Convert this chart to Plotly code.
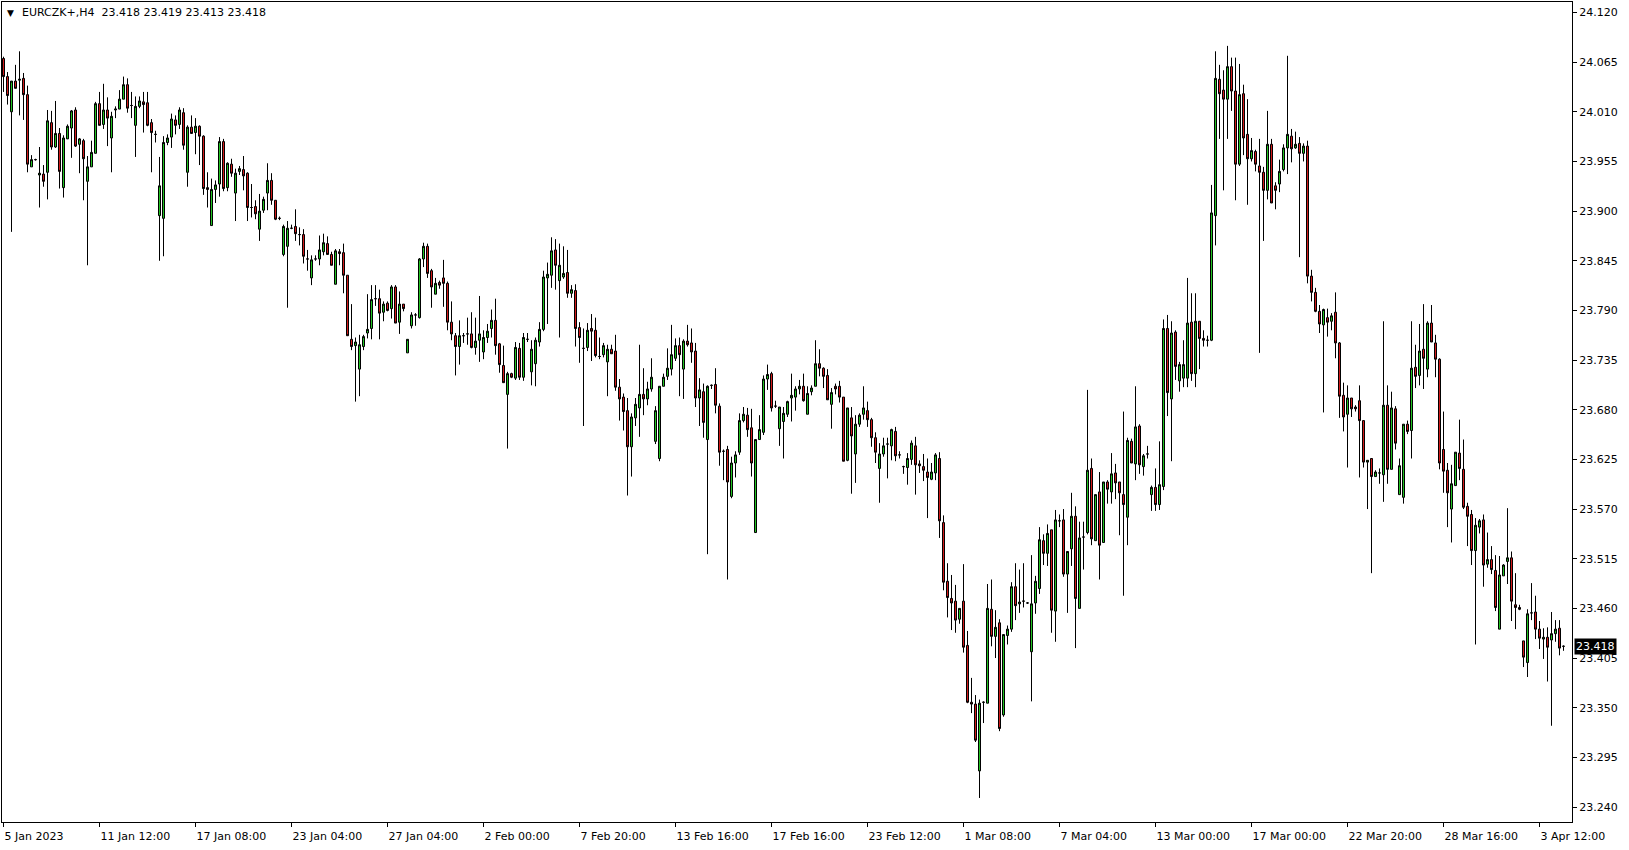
import plotly.graph_objects as go

symbol = "EURCZK+,H4"

time_labels = ["5 Jan 2023", "11 Jan 12:00", "17 Jan 08:00", "23 Jan 04:00", "27 Jan 04:00",
               "2 Feb 00:00", "7 Feb 20:00", "13 Feb 16:00", "17 Feb 16:00", "23 Feb 12:00",
               "1 Mar 08:00", "7 Mar 04:00", "13 Mar 00:00", "17 Mar 00:00", "22 Mar 20:00",
               "28 Mar 16:00", "3 Apr 12:00"]
bars_per_label = 24

price_ticks = [24.120, 24.065, 24.010, 23.955, 23.900, 23.845, 23.790, 23.735, 23.680,
               23.625, 23.570, 23.515, 23.460, 23.405, 23.350, 23.295, 23.240]

open_ = [
    24.069, 24.049, 24.010, 24.044, 24.045, 24.047, 24.029, 23.949, 23.957, 23.940,
    23.941, 23.943, 23.998, 23.971, 23.986, 23.926, 23.980, 23.992, 24.012, 23.974,
    23.978, 23.933, 23.949, 23.964, 24.019, 23.996, 24.012, 23.981, 24.012, 24.013,
    24.024, 24.040, 24.017, 23.995, 24.016, 24.021, 24.020, 23.998, 23.985, 23.895,
    23.892, 23.976, 23.982, 24.001, 23.996, 24.009, 23.943, 23.993, 23.987, 23.994,
    23.983, 23.926, 23.884, 23.924, 23.930, 23.977, 23.926, 23.952, 23.920, 23.944,
    23.946, 23.942, 23.904, 23.905, 23.880, 23.901, 23.920, 23.934, 23.912, 23.892,
    23.852, 23.861, 23.881, 23.883, 23.874, 23.874, 23.847, 23.826, 23.847, 23.847,
    23.855, 23.864, 23.852, 23.819, 23.855, 23.854, 23.829, 23.758, 23.751, 23.725,
    23.750, 23.765, 23.770, 23.803, 23.803, 23.788, 23.798, 23.792, 23.816, 23.777,
    23.797, 23.743, 23.773, 23.785, 23.782, 23.847, 23.861, 23.834, 23.808, 23.821,
    23.826, 23.820, 23.777, 23.762, 23.750, 23.762, 23.764, 23.764, 23.749, 23.757,
    23.744, 23.760, 23.770, 23.779, 23.753, 23.729, 23.697, 23.720, 23.715, 23.748,
    23.716, 23.758, 23.722, 23.731, 23.755, 23.769, 23.826, 23.829, 23.857, 23.823,
    23.827, 23.832, 23.809, 23.812, 23.771, 23.748, 23.749, 23.770, 23.768, 23.739,
    23.741, 23.733, 23.747, 23.745, 23.705, 23.694, 23.679, 23.639, 23.671, 23.682,
    23.697, 23.692, 23.703, 23.645, 23.626, 23.706, 23.717, 23.725, 23.737, 23.751,
    23.725, 23.756, 23.754, 23.745, 23.693, 23.700, 23.647, 23.707, 23.708, 23.684,
    23.634, 23.636, 23.584, 23.621, 23.633, 23.668, 23.674, 23.660, 23.544, 23.647,
    23.655, 23.714, 23.720, 23.684, 23.659, 23.667, 23.675, 23.693, 23.694, 23.703,
    23.706, 23.675, 23.700, 23.706, 23.731, 23.726, 23.718, 23.686, 23.706, 23.706,
    23.694, 23.624, 23.671, 23.631, 23.664, 23.675, 23.679, 23.669, 23.649, 23.615,
    23.631, 23.642, 23.640, 23.656, 23.630, 23.617, 23.616, 23.625, 23.640, 23.620,
    23.617, 23.611, 23.603, 23.610, 23.626, 23.555, 23.490, 23.471, 23.468, 23.448,
    23.468, 23.419, 23.356, 23.354, 23.280, 23.356, 23.355, 23.459, 23.429, 23.444,
    23.342, 23.430, 23.437, 23.484, 23.465, 23.468, 23.466, 23.412, 23.466, 23.482,
    23.535, 23.521, 23.547, 23.457, 23.557, 23.558, 23.498, 23.526, 23.562, 23.460,
    23.539, 23.544, 23.615, 23.535, 23.589, 23.533, 23.600, 23.589, 23.610, 23.600,
    23.586, 23.561, 23.645, 23.620, 23.662, 23.617, 23.631, 23.586, 23.594, 23.575,
    23.595, 23.770, 23.692, 23.766, 23.712, 23.715, 23.715, 23.777, 23.720, 23.778,
    23.759, 23.757, 23.757, 23.895, 24.046, 24.034, 24.024, 24.060, 24.033, 23.952,
    24.030, 23.985, 23.958, 23.966, 23.950, 23.943, 23.923, 23.974, 23.928, 23.930,
    23.946, 23.970, 23.983, 23.970, 23.975, 23.964, 23.972, 23.828, 23.810, 23.789,
    23.774, 23.782, 23.778, 23.788, 23.754, 23.696, 23.675, 23.693, 23.683, 23.690,
    23.668, 23.622, 23.626, 23.606, 23.610, 23.608, 23.685, 23.614, 23.681, 23.586,
    23.583, 23.664, 23.657, 23.727, 23.718, 23.747, 23.725, 23.776, 23.754, 23.736,
    23.636, 23.613, 23.570, 23.596, 23.632, 23.614, 23.573, 23.564, 23.524, 23.550,
    23.558, 23.509, 23.514, 23.502, 23.437, 23.496, 23.512, 23.516, 23.464, 23.461,
    23.424, 23.400, 23.455, 23.456, 23.437, 23.426, 23.428, 23.425, 23.432, 23.438,
    23.418,
]

high = [
    24.071, 24.054, 24.044, 24.062, 24.077, 24.053, 24.039, 23.962, 23.958, 23.971,
    23.951, 24.012, 24.011, 24.022, 23.992, 23.984, 23.996, 24.012, 24.015, 23.981,
    23.980, 23.961, 23.978, 24.021, 24.032, 24.041, 24.026, 24.010, 24.016, 24.034,
    24.049, 24.047, 24.032, 24.027, 24.027, 24.032, 24.032, 24.002, 23.989, 23.960,
    23.983, 23.985, 24.008, 24.006, 24.015, 24.014, 23.995, 24.006, 24.003, 23.995,
    23.984, 23.943, 23.936, 23.934, 23.982, 23.980, 23.954, 23.958, 23.947, 23.950,
    23.961, 23.943, 23.930, 23.912, 23.919, 23.916, 23.953, 23.942, 23.912, 23.894,
    23.885, 23.889, 23.885, 23.902, 23.882, 23.880, 23.857, 23.851, 23.851, 23.873,
    23.875, 23.872, 23.855, 23.858, 23.858, 23.864, 23.829, 23.797, 23.760, 23.763,
    23.763, 23.808, 23.818, 23.818, 23.813, 23.800, 23.800, 23.818, 23.818, 23.811,
    23.797, 23.758, 23.788, 23.787, 23.848, 23.865, 23.864, 23.836, 23.826, 23.823,
    23.846, 23.822, 23.800, 23.765, 23.779, 23.765, 23.782, 23.788, 23.782, 23.806,
    23.768, 23.775, 23.791, 23.803, 23.754, 23.751, 23.722, 23.721, 23.755, 23.754,
    23.765, 23.765, 23.757, 23.760, 23.777, 23.834, 23.843, 23.871, 23.869, 23.864,
    23.861, 23.857, 23.818, 23.819, 23.777, 23.770, 23.776, 23.786, 23.782, 23.760,
    23.754, 23.752, 23.752, 23.763, 23.714, 23.698, 23.693, 23.676, 23.693, 23.752,
    23.726, 23.711, 23.737, 23.684, 23.706, 23.720, 23.748, 23.774, 23.759, 23.760,
    23.758, 23.774, 23.770, 23.754, 23.715, 23.709, 23.707, 23.708, 23.726, 23.687,
    23.636, 23.640, 23.628, 23.634, 23.676, 23.683, 23.682, 23.681, 23.647, 23.674,
    23.718, 23.730, 23.722, 23.690, 23.683, 23.683, 23.690, 23.720, 23.706, 23.713,
    23.720, 23.706, 23.707, 23.757, 23.747, 23.727, 23.725, 23.704, 23.709, 23.712,
    23.694, 23.682, 23.683, 23.674, 23.676, 23.706, 23.689, 23.671, 23.655, 23.643,
    23.649, 23.649, 23.659, 23.661, 23.634, 23.618, 23.632, 23.646, 23.650, 23.624,
    23.631, 23.626, 23.621, 23.632, 23.633, 23.563, 23.510, 23.497, 23.486, 23.460,
    23.509, 23.435, 23.383, 23.364, 23.359, 23.357, 23.487, 23.492, 23.458, 23.448,
    23.431, 23.441, 23.489, 23.510, 23.503, 23.510, 23.467, 23.519, 23.496, 23.550,
    23.542, 23.553, 23.547, 23.569, 23.564, 23.570, 23.523, 23.588, 23.573, 23.556,
    23.556, 23.702, 23.626, 23.586, 23.611, 23.600, 23.602, 23.632, 23.620, 23.600,
    23.678, 23.649, 23.648, 23.706, 23.664, 23.631, 23.640, 23.596, 23.615, 23.645,
    23.780, 23.785, 23.778, 23.768, 23.733, 23.757, 23.826, 23.809, 23.809, 23.778,
    23.768, 23.762, 23.929, 24.077, 24.062, 24.056, 24.083, 24.070, 24.070, 24.063,
    24.040, 24.024, 23.981, 23.968, 23.980, 23.949, 24.011, 23.980, 23.932, 23.957,
    23.974, 24.072, 23.991, 23.988, 23.982, 23.975, 23.978, 23.835, 23.815, 23.796,
    23.792, 23.792, 23.787, 23.810, 23.755, 23.710, 23.707, 23.693, 23.685, 23.707,
    23.668, 23.624, 23.626, 23.613, 23.615, 23.778, 23.707, 23.700, 23.684, 23.626,
    23.664, 23.668, 23.778, 23.752, 23.775, 23.797, 23.778, 23.796, 23.763, 23.737,
    23.678, 23.621, 23.619, 23.633, 23.669, 23.647, 23.577, 23.569, 23.560, 23.559,
    23.564, 23.544, 23.529, 23.519, 23.518, 23.509, 23.571, 23.523, 23.499, 23.464,
    23.424, 23.459, 23.488, 23.474, 23.446, 23.438, 23.439, 23.456, 23.447, 23.447,
    23.419,
]

low = [
    24.032, 24.018, 23.877, 24.036, 24.006, 24.001, 23.943, 23.949, 23.956, 23.904,
    23.927, 23.913, 23.968, 23.970, 23.925, 23.915, 23.980, 23.959, 23.971, 23.942,
    23.912, 23.840, 23.949, 23.964, 23.995, 23.991, 23.972, 23.943, 24.003, 24.013,
    24.024, 24.009, 24.003, 23.960, 24.014, 23.987, 23.994, 23.943, 23.976, 23.845,
    23.850, 23.973, 23.970, 23.985, 23.991, 23.968, 23.927, 23.986, 23.963, 23.951,
    23.918, 23.904, 23.884, 23.909, 23.916, 23.922, 23.922, 23.938, 23.889, 23.940,
    23.923, 23.889, 23.893, 23.891, 23.867, 23.898, 23.901, 23.907, 23.890, 23.890,
    23.850, 23.793, 23.880, 23.867, 23.862, 23.842, 23.834, 23.818, 23.845, 23.840,
    23.851, 23.852, 23.840, 23.819, 23.840, 23.809, 23.762, 23.746, 23.689, 23.695,
    23.746, 23.759, 23.758, 23.795, 23.758, 23.778, 23.789, 23.781, 23.776, 23.764,
    23.789, 23.743, 23.770, 23.773, 23.781, 23.838, 23.826, 23.793, 23.808, 23.814,
    23.794, 23.768, 23.757, 23.718, 23.730, 23.754, 23.752, 23.748, 23.741, 23.733,
    23.736, 23.754, 23.760, 23.741, 23.721, 23.710, 23.637, 23.715, 23.713, 23.713,
    23.712, 23.755, 23.707, 23.706, 23.750, 23.767, 23.775, 23.815, 23.813, 23.760,
    23.825, 23.804, 23.804, 23.750, 23.732, 23.662, 23.745, 23.734, 23.738, 23.736,
    23.738, 23.695, 23.742, 23.701, 23.668, 23.657, 23.585, 23.606, 23.662, 23.650,
    23.674, 23.685, 23.700, 23.642, 23.623, 23.706, 23.713, 23.718, 23.734, 23.695,
    23.692, 23.750, 23.732, 23.683, 23.662, 23.649, 23.520, 23.703, 23.676, 23.618,
    23.602, 23.492, 23.582, 23.605, 23.630, 23.666, 23.650, 23.606, 23.544, 23.647,
    23.652, 23.702, 23.678, 23.682, 23.640, 23.626, 23.672, 23.667, 23.679, 23.697,
    23.689, 23.675, 23.696, 23.706, 23.717, 23.704, 23.691, 23.659, 23.697, 23.688,
    23.623, 23.623, 23.587, 23.599, 23.661, 23.669, 23.661, 23.639, 23.621, 23.577,
    23.628, 23.604, 23.624, 23.623, 23.626, 23.609, 23.597, 23.619, 23.586, 23.610,
    23.601, 23.560, 23.602, 23.602, 23.538, 23.480, 23.450, 23.436, 23.433, 23.443,
    23.411, 23.355, 23.344, 23.312, 23.250, 23.333, 23.355, 23.418, 23.405, 23.324,
    23.340, 23.420, 23.434, 23.447, 23.455, 23.461, 23.465, 23.357, 23.454, 23.476,
    23.508, 23.507, 23.433, 23.423, 23.550, 23.495, 23.455, 23.507, 23.416, 23.460,
    23.503, 23.542, 23.530, 23.535, 23.492, 23.533, 23.576, 23.576, 23.581, 23.541,
    23.474, 23.530, 23.621, 23.602, 23.609, 23.607, 23.626, 23.568, 23.568, 23.569,
    23.591, 23.673, 23.623, 23.713, 23.700, 23.705, 23.705, 23.712, 23.705, 23.725,
    23.750, 23.750, 23.756, 23.862, 23.980, 23.923, 23.980, 24.011, 23.912, 23.950,
    23.962, 23.907, 23.955, 23.944, 23.743, 23.867, 23.913, 23.909, 23.902, 23.921,
    23.944, 23.941, 23.954, 23.969, 23.849, 23.955, 23.820, 23.800, 23.788, 23.765,
    23.677, 23.761, 23.768, 23.737, 23.671, 23.656, 23.616, 23.672, 23.678, 23.605,
    23.616, 23.570, 23.499, 23.606, 23.598, 23.578, 23.598, 23.614, 23.636, 23.586,
    23.576, 23.653, 23.626, 23.704, 23.707, 23.703, 23.716, 23.755, 23.716, 23.614,
    23.588, 23.550, 23.533, 23.596, 23.602, 23.570, 23.529, 23.508, 23.420, 23.543,
    23.484, 23.505, 23.498, 23.457, 23.437, 23.496, 23.487, 23.446, 23.437, 23.458,
    23.395, 23.384, 23.447, 23.426, 23.415, 23.404, 23.379, 23.330, 23.423, 23.408,
    23.413,
]

close = [
    24.049, 24.028, 24.044, 24.036, 24.046, 24.029, 23.952, 23.957, 23.957, 23.942,
    23.933, 24.000, 23.971, 23.986, 23.944, 23.981, 23.994, 24.011, 23.972, 23.980,
    23.958, 23.949, 23.965, 24.019, 23.995, 24.012, 24.003, 24.005, 24.013, 24.024,
    24.040, 24.014, 24.017, 24.016, 24.022, 24.018, 23.995, 23.987, 23.985, 23.928,
    23.976, 23.981, 24.002, 23.995, 24.012, 23.973, 23.993, 23.986, 23.994, 23.983,
    23.925, 23.924, 23.924, 23.929, 23.977, 23.925, 23.953, 23.942, 23.942, 23.947,
    23.939, 23.904, 23.904, 23.897, 23.900, 23.913, 23.934, 23.912, 23.891, 23.892,
    23.883, 23.881, 23.881, 23.875, 23.874, 23.850, 23.847, 23.846, 23.847, 23.857,
    23.865, 23.852, 23.840, 23.856, 23.853, 23.829, 23.762, 23.750, 23.755, 23.752,
    23.761, 23.769, 23.802, 23.803, 23.787, 23.797, 23.790, 23.816, 23.776, 23.797,
    23.792, 23.758, 23.785, 23.785, 23.847, 23.861, 23.831, 23.816, 23.820, 23.818,
    23.820, 23.777, 23.764, 23.750, 23.762, 23.762, 23.764, 23.749, 23.756, 23.764,
    23.760, 23.767, 23.779, 23.751, 23.730, 23.710, 23.720, 23.716, 23.749, 23.716,
    23.760, 23.758, 23.747, 23.757, 23.769, 23.827, 23.830, 23.856, 23.840, 23.840,
    23.831, 23.809, 23.813, 23.770, 23.760, 23.748, 23.768, 23.767, 23.740, 23.739,
    23.751, 23.747, 23.742, 23.705, 23.692, 23.678, 23.639, 23.672, 23.686, 23.697,
    23.692, 23.703, 23.716, 23.679, 23.706, 23.716, 23.726, 23.741, 23.751, 23.741,
    23.756, 23.752, 23.744, 23.693, 23.702, 23.666, 23.706, 23.707, 23.685, 23.633,
    23.634, 23.600, 23.621, 23.630, 23.668, 23.675, 23.658, 23.621, 23.647, 23.658,
    23.714, 23.719, 23.682, 23.684, 23.683, 23.676, 23.689, 23.696, 23.703, 23.706,
    23.690, 23.698, 23.704, 23.731, 23.726, 23.717, 23.691, 23.699, 23.703, 23.694,
    23.623, 23.682, 23.651, 23.664, 23.674, 23.682, 23.669, 23.649, 23.633, 23.631,
    23.640, 23.642, 23.658, 23.629, 23.630, 23.617, 23.626, 23.643, 23.619, 23.618,
    23.613, 23.605, 23.611, 23.630, 23.557, 23.489, 23.472, 23.466, 23.447, 23.460,
    23.417, 23.356, 23.354, 23.314, 23.355, 23.356, 23.460, 23.429, 23.439, 23.327,
    23.431, 23.437, 23.484, 23.463, 23.467, 23.468, 23.466, 23.465, 23.490, 23.536,
    23.521, 23.543, 23.458, 23.558, 23.557, 23.498, 23.523, 23.562, 23.471, 23.538,
    23.539, 23.613, 23.537, 23.586, 23.530, 23.600, 23.592, 23.609, 23.599, 23.588,
    23.575, 23.646, 23.621, 23.661, 23.619, 23.629, 23.631, 23.594, 23.575, 23.597,
    23.770, 23.699, 23.765, 23.728, 23.730, 23.730, 23.776, 23.720, 23.778, 23.759,
    23.757, 23.757, 23.898, 24.047, 24.030, 24.024, 24.060, 24.033, 23.952, 24.029,
    23.981, 23.958, 23.967, 23.952, 23.943, 23.923, 23.974, 23.909, 23.923, 23.944,
    23.970, 23.985, 23.969, 23.974, 23.964, 23.972, 23.828, 23.810, 23.789, 23.775,
    23.791, 23.777, 23.784, 23.754, 23.695, 23.672, 23.693, 23.681, 23.681, 23.668,
    23.622, 23.624, 23.606, 23.611, 23.610, 23.685, 23.614, 23.682, 23.643, 23.618,
    23.664, 23.656, 23.726, 23.717, 23.745, 23.737, 23.776, 23.755, 23.736, 23.621,
    23.612, 23.588, 23.598, 23.633, 23.615, 23.572, 23.562, 23.524, 23.552, 23.557,
    23.508, 23.514, 23.503, 23.461, 23.497, 23.508, 23.516, 23.468, 23.461, 23.459,
    23.406, 23.454, 23.455, 23.437, 23.427, 23.428, 23.417, 23.432, 23.437, 23.416,
    23.418,
]

n = len(close)
assert len(open_) == n and len(high) == n and len(low) == n
bar_index = list(range(n))

BULL = "#22c322"
BEAR = "#d11a1a"
FONT = "DejaVu Sans"

fig = go.Figure()
fig.add_trace(go.Candlestick(
    x=bar_index, open=open_, high=high, low=low, close=close,
    increasing=dict(line=dict(color="black", width=1), fillcolor=BULL),
    decreasing=dict(line=dict(color="black", width=1), fillcolor=BEAR),
    whiskerwidth=0, hoverinfo="skip", showlegend=False,
))

W, H = 1629, 850
m_l, m_r, m_t, m_b = 2, 57, 2, 28
plot_w = W - m_l - m_r
px_per_bar = 4
x0 = -1.5 / px_per_bar
x1 = x0 + plot_w / px_per_bar

fig.update_layout(
    width=W, height=H,
    margin=dict(l=m_l, r=m_r, t=m_t, b=m_b),
    paper_bgcolor="white", plot_bgcolor="white",
    boxgap=0.5, boxgroupgap=0,
    font=dict(family=FONT, size=11, color="black"),
    showlegend=False,
)
fig.update_xaxes(
    range=[x0, x1], rangeslider_visible=False,
    tickvals=[i * bars_per_label for i in range(len(time_labels))],
    ticktext=time_labels,
    ticks="outside", ticklen=4, tickcolor="black", tickwidth=1,
    ticklabelposition="outside right", ticklabelstandoff=4,
    showline=True, linecolor="black", linewidth=1, mirror=True,
    showgrid=False, zeroline=False, fixedrange=True,
    tickfont=dict(family=FONT, size=11, color="black"),
)
fig.update_yaxes(
    side="right",
    range=[23.2234, 24.1316],
    tickvals=price_ticks,
    ticktext=[f"{p:.3f}" for p in price_ticks],
    ticks="outside", ticklen=4, tickcolor="black", tickwidth=1,
    showline=True, linecolor="black", linewidth=1, mirror=True,
    showgrid=False, zeroline=False, fixedrange=True,
    tickfont=dict(family=FONT, size=11, color="black"),
)

# current price label
fig.add_annotation(
    x=1, xref="paper", y=close[-1], yref="y",
    xanchor="left", yanchor="middle", xshift=2,
    text=f"{close[-1]:.3f}", showarrow=False,
    bgcolor="black", borderpad=1,
    font=dict(family=FONT, size=11, color="white"),
)
# header
fig.add_annotation(
    x=0, xref="paper", y=1, yref="paper", xanchor="left", yanchor="middle",
    xshift=3, yshift=-10.5, text="▼", showarrow=False,
    font=dict(family=FONT, size=9, color="black"),
)
header = f"{symbol}\u00a0\u00a0{open_[-1]:.3f} {high[-1]:.3f} {low[-1]:.3f} {close[-1]:.3f}"
fig.add_annotation(
    x=0, xref="paper", y=1, yref="paper", xanchor="left", yanchor="middle",
    xshift=18, yshift=-10.5, text=header, showarrow=False,
    font=dict(family=FONT, size=11, color="black"),
)

fig.write_html(
    "out.html",
    config={"displayModeBar": False, "staticPlot": True},
    post_script="document.body.style.margin='0';document.body.style.overflow='hidden';",
)
